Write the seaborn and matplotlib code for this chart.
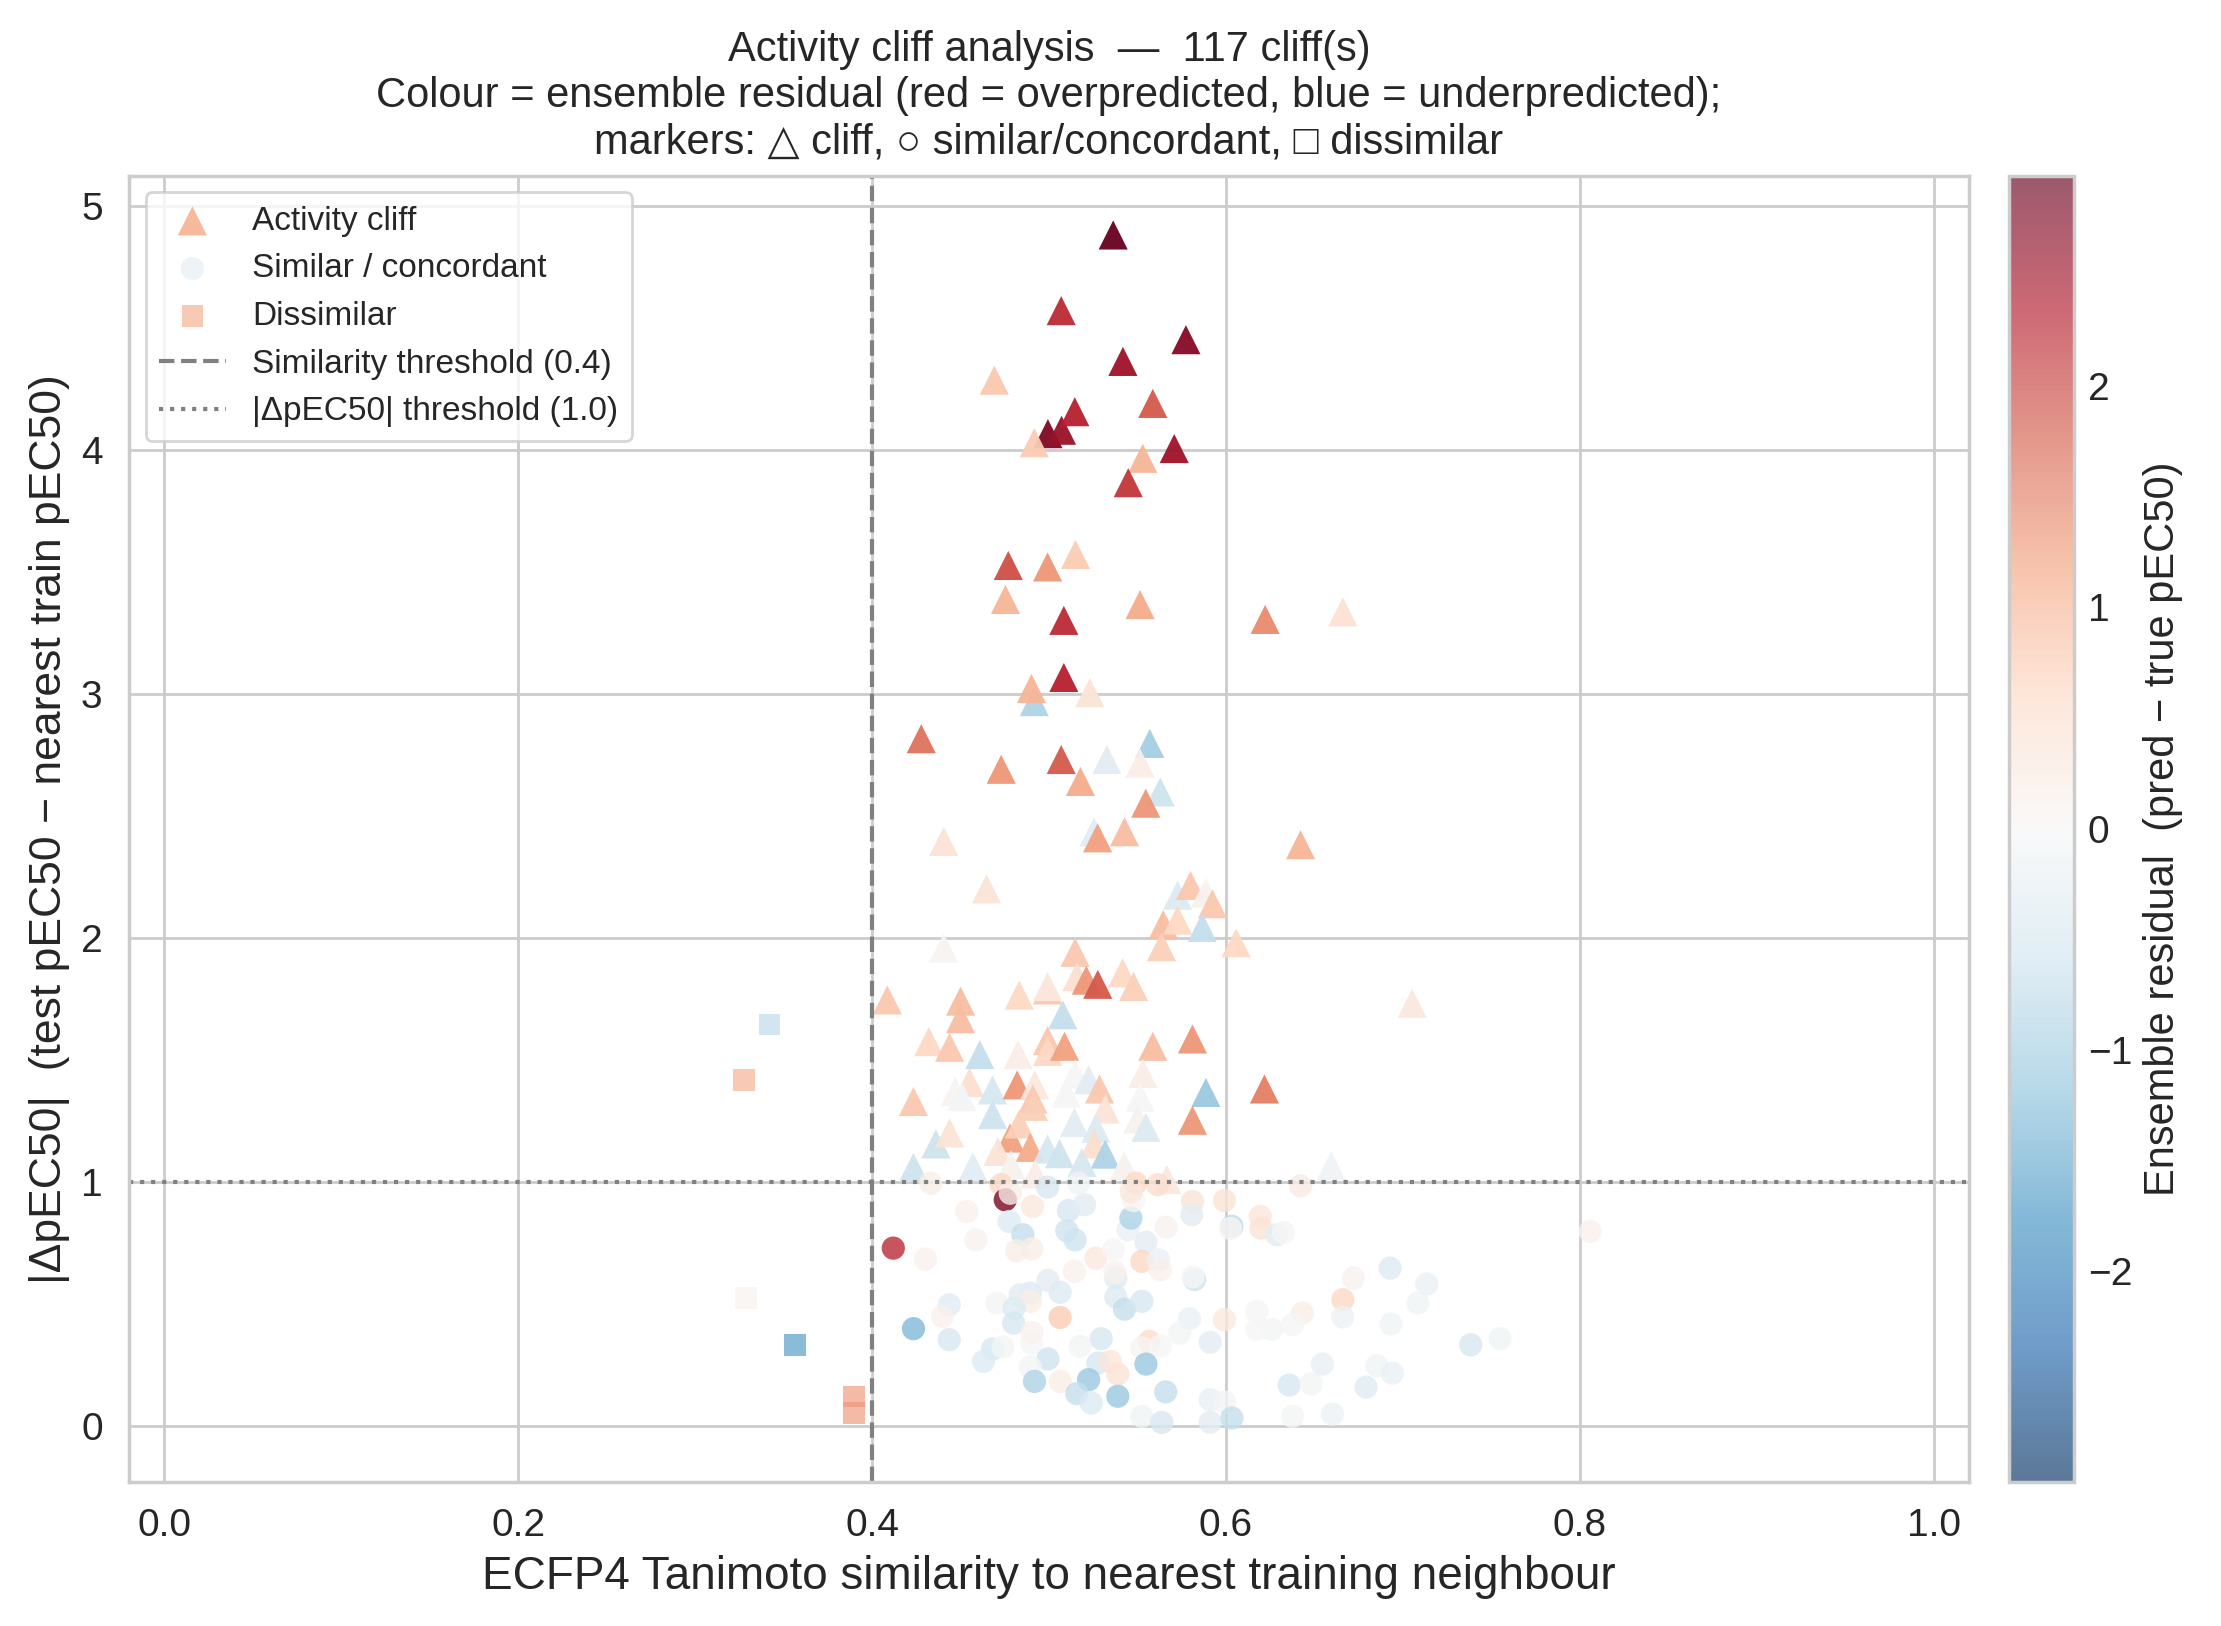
import numpy as np
import pandas as pd
import seaborn as sns
import matplotlib
matplotlib.use("Agg")
import matplotlib.pyplot as plt
from matplotlib.colors import Normalize
from matplotlib.cm import ScalarMappable

sns.set_theme(style="whitegrid")
plt.rcParams['font.family'] = ['Liberation Sans', 'DejaVu Sans']

# Activity cliffs (similar pairs with |delta| >= 1)
cliff_x = [0.4754, 0.5363, 0.5069, 0.5774, 0.5418, 0.4691, 0.5587, 0.4994, 0.5071, 0.5146,
           0.4917, 0.5708, 0.5530, 0.5448, 0.4770, 0.4992, 0.5150, 0.5515, 0.6222, 0.5084,
           0.6661, 0.5084, 0.4917, 0.4901, 0.5231, 0.4278, 0.4730, 0.5069, 0.5327, 0.5570,
           0.5515, 0.5178, 0.5629, 0.5547, 0.4405, 0.5255, 0.5275, 0.5427, 0.6422, 0.4647,
           0.5727, 0.5800, 0.5886, 0.5924, 0.5646, 0.5727, 0.5866, 0.5636, 0.6058, 0.4405,
           0.5148, 0.5158, 0.5211, 0.5276, 0.5416, 0.5478, 0.7053, 0.4086, 0.4500, 0.4832,
           0.4992, 0.4992, 0.5078, 0.4500, 0.4321, 0.4438, 0.4609, 0.4826, 0.4992, 0.4992,
           0.5088, 0.5587, 0.5811, 0.4551, 0.4234, 0.4470, 0.4508, 0.4681, 0.4820, 0.4920,
           0.4909, 0.5148, 0.5224, 0.5097, 0.5286, 0.5530, 0.5515, 0.5887, 0.6218, 0.4681,
           0.4912, 0.5144, 0.5318, 0.5265, 0.5811, 0.5502, 0.5548, 0.4361, 0.4438, 0.4780,
           0.4832, 0.4711, 0.4894, 0.4992, 0.5060, 0.5256, 0.5318, 0.5186, 0.4234, 0.4570,
           0.4785, 0.4922, 0.5425, 0.5666, 0.6595]
cliff_y = [3.387, 4.880, 4.570, 4.451, 4.362, 4.285, 4.190, 4.066, 4.080, 4.156,
           4.029, 4.005, 3.965, 3.865, 3.526, 3.520, 3.571, 3.366, 3.305, 3.301,
           3.336, 3.067, 2.968, 3.022, 3.005, 2.816, 2.691, 2.731, 2.731, 2.797,
           2.716, 2.641, 2.598, 2.552, 2.395, 2.434, 2.410, 2.435, 2.382, 2.201,
           2.175, 2.215, 2.185, 2.140, 2.055, 2.073, 2.043, 1.964, 1.980, 1.959,
           1.941, 1.842, 1.827, 1.810, 1.857, 1.801, 1.732, 1.746, 1.741, 1.766,
           1.787, 1.801, 1.685, 1.669, 1.575, 1.552, 1.522, 1.522, 1.579, 1.535,
           1.556, 1.556, 1.586, 1.408, 1.330, 1.371, 1.350, 1.377, 1.398, 1.398,
           1.340, 1.442, 1.419, 1.364, 1.381, 1.445, 1.347, 1.367, 1.381, 1.276,
           1.310, 1.244, 1.299, 1.220, 1.253, 1.258, 1.224, 1.156, 1.201, 1.180,
           1.238, 1.125, 1.142, 1.135, 1.116, 1.156, 1.114, 1.080, 1.060, 1.063,
           1.070, 1.033, 1.067, 1.010, 1.067]
cliff_res = [1.0, 2.95, 2.2, 2.7, 2.5, 0.8, 1.8, 2.75, 2.55, 2.3,
             0.75, 2.5, 1.0, 2.1, 1.9, 1.3, 0.75, 1.1, 1.4, 2.2,
             0.45, 2.3, -0.9, 1.0, 0.4, 1.6, 1.3, 1.8, -0.3, -1.0,
             0.2, 1.1, -0.6, 1.3, 0.4, -0.3, 1.2, 0.9, 1.0, 0.4,
             -0.4, 0.8, 0.1, 0.8, 0.9, 0.6, -0.7, 0.7, 0.6, 0.05,
             0.8, 0.5, 1.3, 1.8, 0.6, 0.7, 0.3, 0.8, 0.9, 0.6,
             0.8, 0.3, -0.7, 0.9, 0.6, 0.8, -0.7, 0.2, 0.8, 0.6,
             1.2, 0.9, 1.3, 0.5, 0.8, 0.05, -0.05, -0.5, 1.3, 0.3,
             0.8, 0.0, -0.3, 0.0, 0.8, 0.2, 0.0, -1.1, 1.5, -0.6,
             0.7, -0.3, 0.4, -0.4, 1.3, 0.1, -0.4, -0.6, 0.4, 1.2,
             0.7, 0.4, 1.1, -0.5, -0.6, 0.5, -0.9, -0.5, -0.6, -0.3,
             0.1, 0.2, 0.1, 0.3, -0.1]

# Similar / concordant pairs
sim_x = [0.5446, 0.4332, 0.4730, 0.4753, 0.4781, 0.4536, 0.4775, 0.4907, 0.4992, 0.5110,
         0.5201, 0.5167, 0.4852, 0.4587, 0.4120, 0.4301, 0.4818, 0.4903, 0.5101, 0.5148,
         0.5265, 0.5365, 0.5144, 0.5463, 0.5478, 0.5491, 0.5465, 0.5615, 0.5548, 0.5525,
         0.5619, 0.5628, 0.5662, 0.5811, 0.5807, 0.5992, 0.6034, 0.6026, 0.6194, 0.6198,
         0.6288, 0.6326, 0.5823, 0.5814, 0.4994, 0.5063, 0.4894, 0.4837, 0.4705, 0.4894,
         0.4803, 0.4800, 0.4436, 0.4398, 0.4234, 0.4436, 0.5063, 0.5378, 0.5374, 0.5378,
         0.5427, 0.5525, 0.5794, 0.5738, 0.5992, 0.5911, 0.5566, 0.5525, 0.5628, 0.5295,
         0.5176, 0.4903, 0.4903, 0.4681, 0.4740, 0.4630, 0.4994, 0.4894, 0.5276, 0.5346,
         0.5389, 0.5548, 0.4918, 0.5063, 0.5224, 0.5157, 0.5239, 0.5389, 0.5660, 0.5525,
         0.5638, 0.5911, 0.5992, 0.5911, 0.6034, 0.6175, 0.6259, 0.6175, 0.6422, 0.6928,
         0.6721, 0.7135, 0.6661, 0.6661, 0.7085, 0.6433, 0.6377, 0.6934, 0.7384, 0.7550,
         0.6546, 0.6853, 0.6941, 0.6358, 0.6482, 0.6793, 0.6376, 0.6602, 0.8059]
sim_y = [0.804, 0.995, 0.989, 0.927, 0.954, 0.879, 0.838, 0.900, 0.979, 0.883,
         0.907, 0.995, 0.784, 0.763, 0.729, 0.684, 0.718, 0.726, 0.800, 0.763,
         0.688, 0.722, 0.634, 0.852, 0.924, 0.995, 0.961, 0.989, 0.753, 0.675,
         0.681, 0.640, 0.815, 0.920, 0.866, 0.924, 0.818, 0.810, 0.859, 0.811,
         0.784, 0.793, 0.600, 0.612, 0.597, 0.548, 0.545, 0.538, 0.504, 0.511,
         0.483, 0.422, 0.497, 0.449, 0.399, 0.354, 0.445, 0.606, 0.630, 0.529,
         0.479, 0.511, 0.439, 0.381, 0.436, 0.343, 0.347, 0.320, 0.328, 0.358,
         0.327, 0.340, 0.384, 0.316, 0.324, 0.265, 0.275, 0.242, 0.258, 0.265,
         0.213, 0.254, 0.183, 0.183, 0.190, 0.133, 0.095, 0.122, 0.140, 0.040,
         0.015, 0.108, 0.098, 0.015, 0.033, 0.470, 0.396, 0.396, 0.984, 0.647,
         0.606, 0.582, 0.518, 0.447, 0.504, 0.463, 0.415, 0.418, 0.333, 0.358,
         0.254, 0.247, 0.217, 0.168, 0.173, 0.159, 0.040, 0.049, 0.797]
sim_res = [-0.2, 0.2, 0.6, 2.8, 0.2, 0.15, -0.4, 0.3, -0.5, -0.5,
           -0.3, -0.1, -0.7, 0.1, 2.2, 0.15, 0.2, 0.2, -0.6, -0.6,
           0.3, 0.0, 0.15, -0.9, 0.05, 0.6, 0.3, 0.5, -0.3, 0.6,
           -0.2, 0.15, 0.1, 0.4, -0.3, 0.4, -0.8, 0.05, 0.35, 0.4,
           -0.3, 0.0, -0.6, 0.0, -0.3, -0.4, -0.4, -0.3, -0.05, 0.2,
           -0.4, -0.5, -0.35, 0.15, -1.3, -0.5, 0.75, -0.4, 0.1, -0.4,
           -0.7, -0.5, -0.2, -0.05, 0.3, -0.3, 0.55, 0.05, 0.0, -0.5,
           -0.05, 0.0, 0.1, -0.5, -0.05, -0.4, -0.6, -0.05, -0.5, 0.35,
           0.4, -1.1, -0.9, 0.2, -1.1, -0.7, -0.4, -1.1, -0.7, -0.1,
           -0.5, -0.25, -0.05, -0.3, -0.7, 0.0, -0.05, 0.0, 0.25, -0.4,
           0.1, -0.2, 0.6, -0.15, -0.1, 0.2, 0.0, -0.1, -0.5, -0.1,
           -0.25, -0.1, -0.2, -0.5, -0.05, -0.35, -0.05, -0.15, 0.15]

# Dissimilar pairs (below similarity threshold)
dis_x = [0.3275, 0.3420, 0.3287, 0.3564, 0.3897, 0.3897]
dis_y = [1.417, 1.646, 0.525, 0.332, 0.122, 0.054]
dis_res = [1.1, -0.8, 0.1, -1.7, 1.3, 1.3]

SIM_THR = 0.4
DELTA_THR = 1.0
n_cliffs = 117
vlim = 2.95

cliffs = pd.DataFrame({'sim': cliff_x, 'delta': cliff_y, 'res': cliff_res})
similar = pd.DataFrame({'sim': sim_x, 'delta': sim_y, 'res': sim_res})
dissimilar = pd.DataFrame({'sim': dis_x, 'delta': dis_y, 'res': dis_res})

fig = plt.figure(figsize=(11.105, 8.13), dpi=200)
ax = fig.add_axes([0.0581, 0.0887, 0.8284, 0.8033])
cax = fig.add_axes([0.9044, 0.0887, 0.0293, 0.8033])

common = dict(palette='RdBu_r', hue_norm=(-vlim, vlim), legend=False, linewidth=0, ax=ax)
sns.scatterplot(data=cliffs, x='sim', y='delta', hue='res', marker='^', s=110,
                alpha=0.95, label='Activity cliff', **common)
sns.scatterplot(data=similar, x='sim', y='delta', hue='res', marker='o', s=70,
                alpha=0.8, label='Similar / concordant', **common)
sns.scatterplot(data=dissimilar, x='sim', y='delta', hue='res', marker='s', s=60,
                alpha=0.65, label='Dissimilar', **common)

ax.axvline(SIM_THR, color='grey', linestyle='--', linewidth=1.5,
           label=f'Similarity threshold ({SIM_THR})')
ax.axhline(DELTA_THR, color='grey', linestyle=':', linewidth=1.5,
           label=f'|ΔpEC50| threshold ({DELTA_THR})')

ax.set_xlim(-0.02, 1.02)
ax.set_xlabel('ECFP4 Tanimoto similarity to nearest training neighbour', fontsize=16.5)
ax.set_ylabel('|ΔpEC50|  (test pEC50 − nearest train pEC50)', fontsize=16)
ax.tick_params(labelsize=14)
ax.set_title(f'Activity cliff analysis  —  {n_cliffs} cliff(s)\n'
             'Colour = ensemble residual (red = overpredicted, blue = underpredicted);\n'
             'markers: △ cliff, ○ similar/concordant, □ dissimilar',
             fontsize=15, pad=8)
ax.legend(loc='upper left', fontsize=12, frameon=True)

sm = ScalarMappable(norm=Normalize(-vlim, vlim), cmap='RdBu_r')
cbar = fig.colorbar(sm, cax=cax, alpha=0.65)
cbar.ax.grid(False)
cbar.set_label('Ensemble residual  (pred − true pEC50)', fontsize=15)
cbar.ax.tick_params(labelsize=14, length=0, pad=5)

fig.savefig('out.png', dpi=200)
